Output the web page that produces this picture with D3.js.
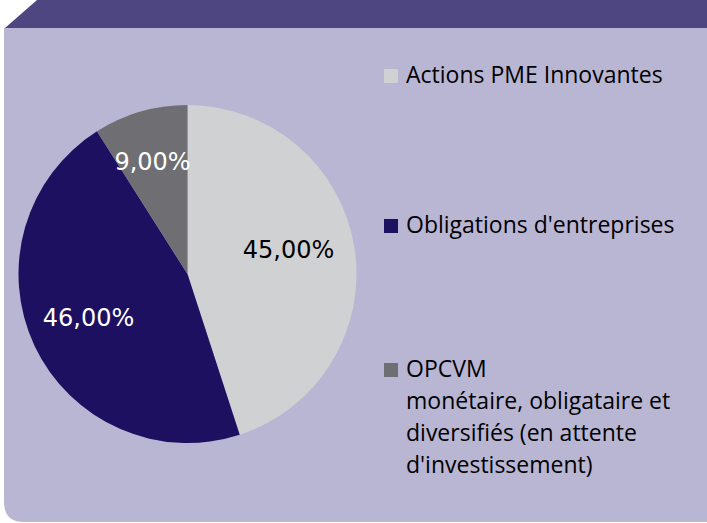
<!DOCTYPE html>
<html><head><meta charset="utf-8">
<script src="https://cdn.jsdelivr.net/npm/d3@7"></script>
<style>html,body{margin:0;padding:0;background:#fff;}svg{display:block;}text{font-variant-ligatures:none;}</style>
</head><body>
<script>
const categories = ["Actions PME Innovantes", "Obligations d'entreprises", "OPCVM monétaire, obligataire et diversifiés (en attente d'investissement)"];
const legendLines = [["Actions PME Innovantes"], ["Obligations d'entreprises"], ["OPCVM", "monétaire, obligataire et", "diversifiés (en attente", "d'investissement)"]];
const values = [45, 46, 9];
const valueLabels = ["45,00%", "46,00%", "9,00%"];
const colors = ["#d0d1d3", "#1e1060", "#6e6e73"];
const labelColors = ["#000000", "#ffffff", "#ffffff"];

const W = 707, H = 523;
const svg = d3.select("body").append("svg").attr("width", W).attr("height", H);

// background panel
const p = d3.path();
p.moveTo(4, 28); p.lineTo(W, 28); p.lineTo(W, 522); p.lineTo(24, 522);
p.quadraticCurveTo(4, 522, 4, 502); p.closePath();
svg.append("path").attr("d", p.toString()).attr("fill", "#b9b6d4");

// top banner
svg.append("path").attr("d", `M5,28 L37,0 L${W},0 L${W},28 Z`).attr("fill", "#4e4680");

// pie
const cx = 187.5, cy = 274, r = 169;
const pie = d3.pie().sort(null).value(d => d)(values);
const arc = d3.arc().innerRadius(0).outerRadius(r);
const g = svg.append("g").attr("transform", `translate(${cx},${cy})`);
g.selectAll("path.slice").data(pie).join("path").attr("class", "slice")
  .attr("d", arc).attr("fill", (d, i) => colors[i]);

const labelPos = [[101, -24], [-99, 44], [-35, -112]];
g.selectAll("text.lbl").data(pie).join("text").attr("class", "lbl")
  .attr("x", (d, i) => labelPos[i][0]).attr("y", (d, i) => labelPos[i][1])
  .attr("text-anchor", "middle").attr("dominant-baseline", "central")
  .attr("font-family", "DejaVu Sans").attr("font-size", 24)
  .attr("fill", (d, i) => labelColors[i]).text((d, i) => valueLabels[i]);

// legend
const legY = [83, 233, 377];
const leg = svg.append("g");
categories.forEach((c, i) => {
  leg.append("rect").attr("x", 384).attr("y", legY[i] - 14).attr("width", 14).attr("height", 14).attr("fill", colors[i]);
  const t = leg.append("text").attr("font-family", "Open Sans").attr("font-size", 23).attr("fill", "#000");
  legendLines[i].forEach((ln, j) => {
    t.append("tspan").attr("x", 406).attr("y", legY[i] + j * 32).text(ln);
  });
});
</script>
</body></html>
